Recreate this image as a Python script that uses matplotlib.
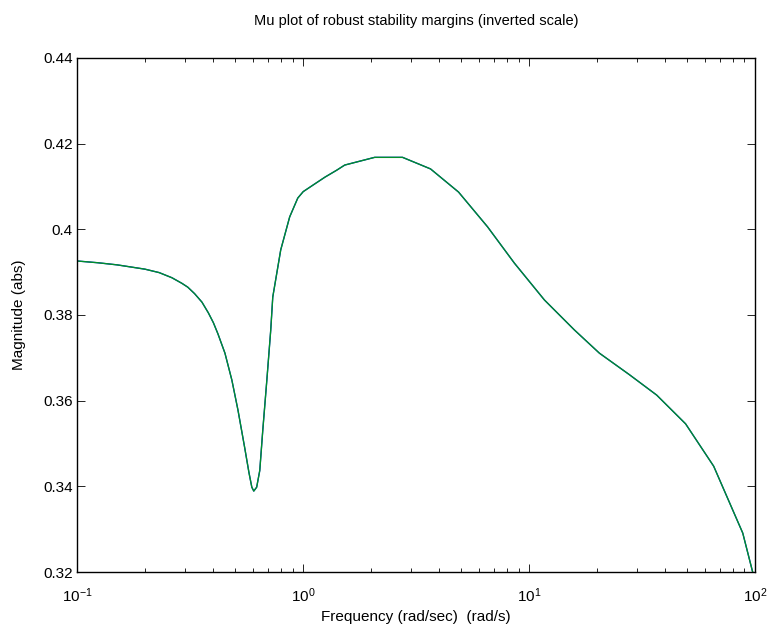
import matplotlib
matplotlib.use("Agg")
import matplotlib.pyplot as plt
from matplotlib.ticker import LogLocator, FixedLocator

plt.rcParams["font.family"] = ["Liberation Sans", "DejaVu Sans"]
plt.rcParams["mathtext.fontset"] = "custom"
plt.rcParams["mathtext.rm"] = "Liberation Sans"
plt.rcParams["mathtext.it"] = "Liberation Sans"

# mu bound, inverted scale (rad/s vs abs)
freq = [0.1, 0.123, 0.15, 0.199, 0.23, 0.262, 0.29, 0.308, 0.33, 0.356,
        0.38, 0.40, 0.419, 0.450, 0.483, 0.514, 0.551, 0.575, 0.592, 0.604,
        0.622, 0.642, 0.662, 0.690, 0.718, 0.733, 0.795, 0.871, 0.946, 1.0,
        1.125, 1.25, 1.407, 1.527, 2.072, 2.754, 3.664, 4.875, 6.55, 8.62,
        11.71, 15.9, 20.5, 27.8, 36.8, 49.4, 65.8, 88.5, 100.0]
mag_upper = [0.3926, 0.3922, 0.3917, 0.3907, 0.3899, 0.3887, 0.3874, 0.3865,
             0.3850, 0.3830, 0.3805, 0.3782, 0.3756, 0.3711, 0.3648, 0.3578,
             0.3489, 0.3432, 0.3398, 0.3389, 0.3398, 0.3437, 0.3531, 0.3648,
             0.3765, 0.3842, 0.3952, 0.4029, 0.4073, 0.4088, 0.4106, 0.4122,
             0.4138, 0.4150, 0.4168, 0.4168, 0.4141, 0.4087, 0.4006, 0.3921,
             0.3835, 0.3765, 0.3711, 0.3661, 0.3613, 0.3546, 0.3447, 0.3291,
             0.3181]
mag_lower = list(mag_upper)

yticks = [0.32, 0.34, 0.36, 0.38, 0.40, 0.42, 0.44]
ytick_labels = ["0.32", "0.34", "0.36", "0.38", "0.4", "0.42", "0.44"]

fig = plt.figure(figsize=(7.67, 6.30), dpi=100)
ax = fig.add_axes([0.101, 0.092, 0.883, 0.816])

ax.semilogx(freq, mag_lower, color="#0000ff", linewidth=0.9)
ax.semilogx(freq, mag_upper, color="#00902a", linewidth=1.0)

ax.set_xlim(0.1, 100)
ax.set_ylim(0.32, 0.44)
ax.yaxis.set_major_locator(FixedLocator(yticks))
ax.set_yticklabels(ytick_labels)
ax.xaxis.set_major_locator(LogLocator(base=10, numticks=10))
ax.xaxis.set_minor_locator(LogLocator(base=10, subs=range(2, 10), numticks=20))

ax.tick_params(which="both", direction="in", top=True, right=True,
               labelsize=11, width=0.6)
ax.tick_params(which="major", length=6)
ax.tick_params(which="minor", length=3)
ax.tick_params(axis="x", pad=10)
for s in ax.spines.values():
    s.set_linewidth(1.0)

ax.set_title("Mu plot of robust stability margins (inverted scale)",
             fontsize=10.5, pad=24)
ax.set_xlabel("Frequency (rad/sec)  (rad/s)", fontsize=11, labelpad=4)
ax.set_ylabel("Magnitude (abs)", fontsize=11, labelpad=12)

fig.savefig("out.png", dpi=100)
